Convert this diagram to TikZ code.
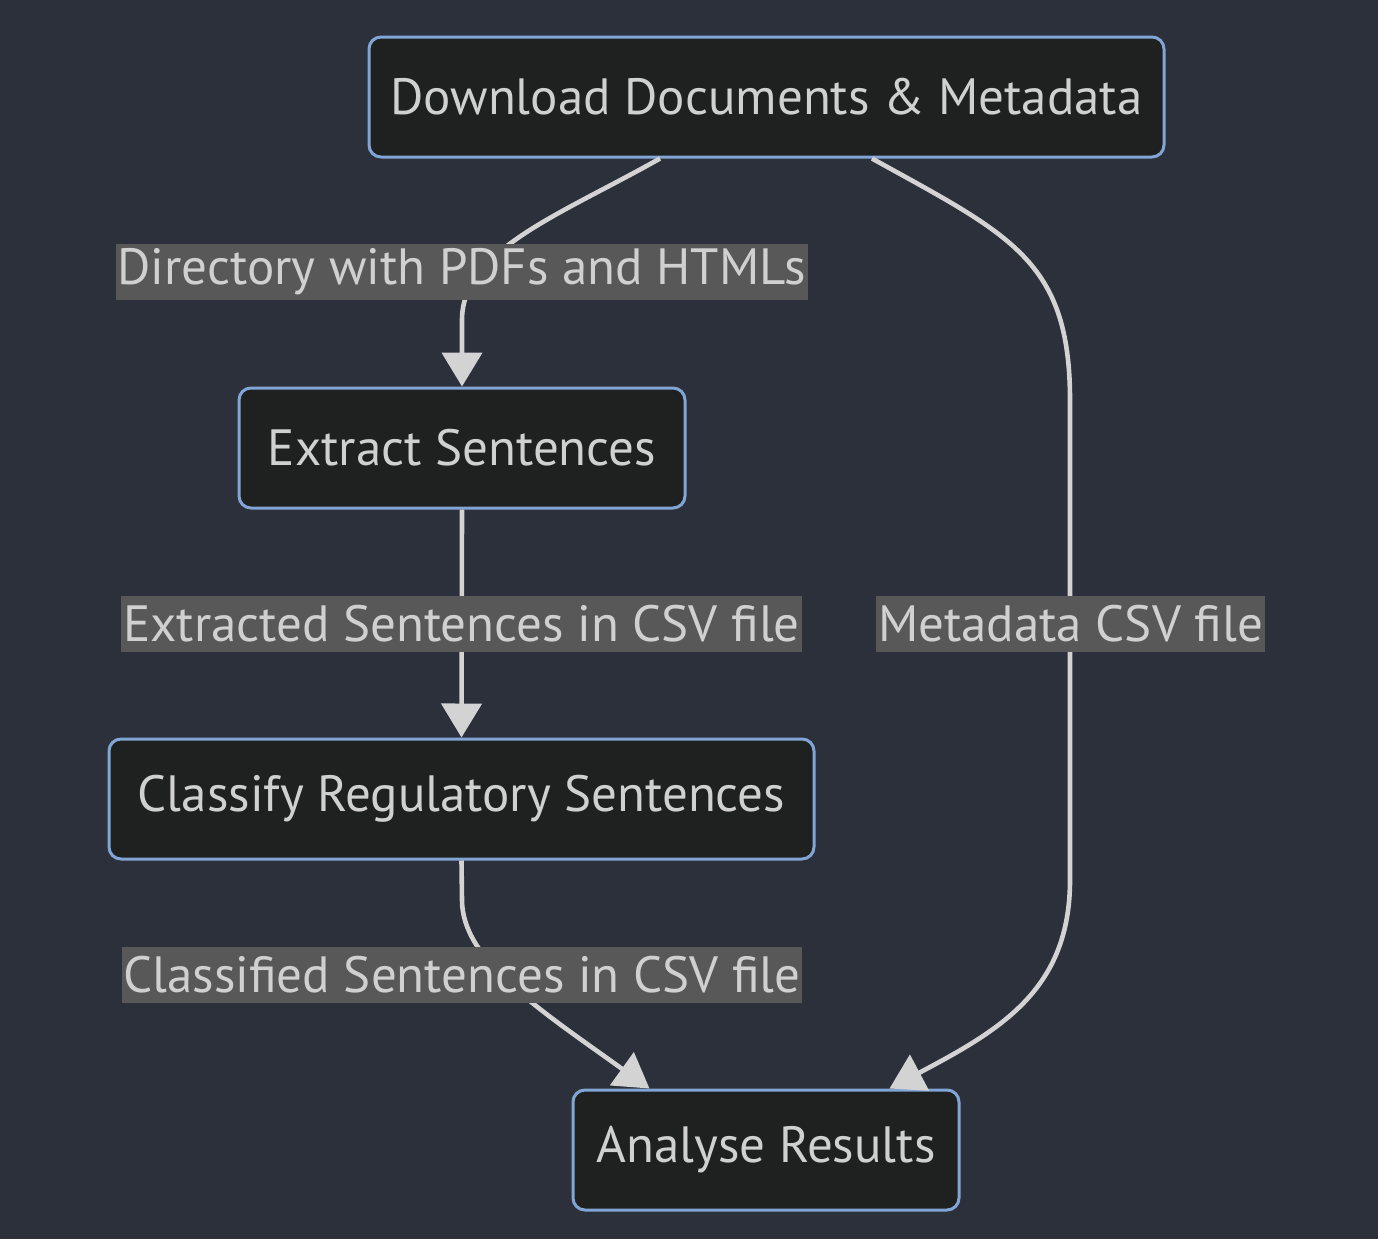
\documentclass[tikz,border=0pt]{standalone}
\usepackage{fontspec}
\setmainfont{PT Sans}
\usetikzlibrary{arrows.meta, positioning, calc}
\definecolor{bgdark}{HTML}{2C303B}
\definecolor{boxfill}{HTML}{1F2020}
\definecolor{boxline}{HTML}{81A6D6}
\definecolor{txtgrey}{HTML}{D0D0D0}
\definecolor{labelbg}{HTML}{585858}
\definecolor{linegrey}{HTML}{D3D3D3}
\begin{document}
\begin{tikzpicture}[x=0.5pt, y=-0.5pt,
  stage/.style={draw=boxline, fill=boxfill, line width=1.5pt, rounded corners=6pt,
    minimum height=60pt, inner sep=0pt, text=txtgrey, font=\fontsize{25.5}{30}\selectfont},
  flowlabel/.style={fill=labelbg, text=txtgrey, inner sep=1pt, minimum height=28pt,
    font=\fontsize{25.5}{30}\selectfont},
  flow/.style={draw=linegrey, line width=2.3pt, -{Triangle[length=17pt, width=20pt]}}]
% Background and page size
\fill[bgdark] (0,0) rectangle (1378,1239);
\useasboundingbox (0,0) rectangle (1378,1239);
% Stages
\node[stage, minimum width=397.5pt] (dl) at (766.5,97) {Download Documents \& Metadata};
\node[stage, minimum width=223pt] (ex) at (462,448) {Extract Sentences};
\node[stage, minimum width=352.5pt] (cl) at (461.5,799) {Classify Regulatory Sentences};
\node[stage, minimum width=193pt] (an) at (766,1150) {Analyse Results};
% Connectors
\draw[flow] ([xshift=-53.25pt]dl.south) .. controls (560,215) and (462,250) .. (462,320) -- (ex.north);
\draw[flow] (ex.south) -- (cl.north);
\draw[flow] ([xshift=52.75pt]dl.south) .. controls (1010,235) and (1070,260) .. (1070,400)
  -- (1070,880) .. controls (1070,990) and (1000,1030) .. ([xshift=61.75pt]an.north);
\draw[flow] (cl.south) -- (462,900) .. controls (462,960) and (540,1010) .. ([xshift=-58.25pt]an.north);
% Edge labels
\node[flowlabel] (l1) at (462,272) {Directory with PDFs and HTMLs};
\node[flowlabel] (l2) at (461.5,624) {Extracted Sentences in CSV file};
\node[flowlabel] (l3) at (1070.5,624) {Metadata CSV file};
\node[flowlabel] (l4) at (462,975) {Classified Sentences in CSV file};
\end{tikzpicture}
\end{document}
